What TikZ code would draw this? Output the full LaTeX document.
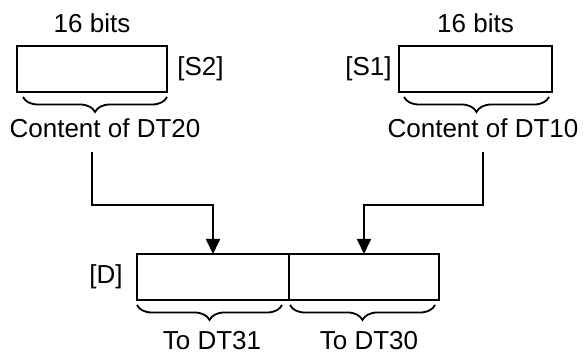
\documentclass[tikz,border=0pt]{standalone}
\usepackage{fontspec}
\setmainfont{Liberation Sans}
\usetikzlibrary{arrows.meta,positioning,decorations.pathreplacing}

\begin{document}
\begin{tikzpicture}[
  x=0.5pt, y=0.5pt,
  font=\fontsize{13}{15}\selectfont,
  wordbox/.style={draw, line width=0.9pt, outer sep=0pt, inner sep=0pt,
                  minimum width=75pt, minimum height=23pt},
  opname/.style={inner sep=2pt},
  contlabel/.style={anchor=base, inner sep=2pt, outer sep=5pt},
  brc/.style={decorate, line width=0.9pt,
              decoration={brace, mirror, amplitude=7.5pt}},
  arr/.style={-{Triangle[length=7.5pt, width=7pt]}, line width=0.9pt}
]
\useasboundingbox (0,0) rectangle (586,353);

%% Source words
\node[wordbox] (s2) at (92,284) {};
\node[wordbox, minimum width=76.5pt] (s1) at (475.5,284) {};

\node[opname, above=4.5pt of s2] (b2) {16 bits};
\node[opname, above=4.5pt of s1] (b1) {16 bits};
\node[opname, right=3pt of s2] (ls2) {[S2]};
\node[opname, left=1.5pt of s1] (ls1) {[S1]};

%% Braces under sources
\draw[brc] ([xshift=3pt,yshift=-2.5pt]s2.south west) -- ([yshift=-2.5pt]s2.south east);
\draw[brc] ([xshift=2.5pt,yshift=-2.5pt]s1.south west) -- ([xshift=-1.5pt,yshift=-2.5pt]s1.south east);

\node[contlabel] (c20) at (105,215) {Content of DT20};
\node[contlabel] (c10) at (483,215) {Content of DT10};

%% Destination (32 bits)
\node[wordbox, minimum width=76pt] (d31) at (213,76) {};
\node[wordbox, anchor=west] (d30) at (d31.east) {};
\node[opname, left=5pt of d31] (ld) {[D]};

\draw[brc] ([yshift=-2.5pt]d31.south west) -- ([xshift=-3.5pt,yshift=-2.5pt]d31.south east);
\draw[brc] ([xshift=0.5pt,yshift=-2.5pt]d30.south west) -- ([xshift=-2pt,yshift=-2.5pt]d30.south east);

\node[anchor=base, inner sep=2pt] (t31) at (212,3) {To DT31};
\node[anchor=base, inner sep=2pt] (t30) at (369,3) {To DT30};

%% Transfer
\draw[arr] (c20.south -| s2.south) -- ++(0,-53) -| (d31.north);
\draw[arr] (c10.south) -- ++(0,-53) -| (d30.north);

\end{tikzpicture}
\end{document}
